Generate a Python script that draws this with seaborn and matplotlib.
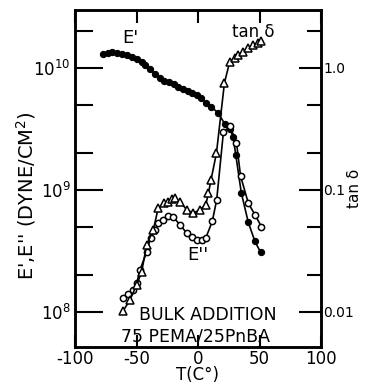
import matplotlib
matplotlib.use("Agg")
import matplotlib.pyplot as plt
import seaborn as sns
from matplotlib.ticker import FixedLocator, FixedFormatter, LogLocator, NullFormatter, LogFormatterMathtext

# ---- data ----
T_Ep = [-77.0, -73.4, -70.2, -66.1, -62.0, -58.0, -53.9, -49.8, -45.8, -43.1, -39.0, -35.0,
        -30.9, -27.4, -23.6, -19.3, -16.0, -12.0, -7.9, -4.6, -1.1, 2.4, 6.3, 10.6, 16.5,
        21.7, 26.0, 28.5, 30.7, 35.2, 40.9, 46.3, 51.0]
Ep = [1.30e10, 1.33e10, 1.35e10, 1.33e10, 1.30e10, 1.28e10, 1.24e10, 1.18e10, 1.11e10, 1.06e10,
      9.75e9, 8.93e9, 8.24e9, 7.87e9, 7.68e9, 7.35e9, 7.03e9, 6.77e9, 6.51e9, 6.27e9, 6.01e9,
      5.65e9, 5.20e9, 4.82e9, 4.26e9, 3.48e9, 3.16e9, 2.72e9, 1.94e9, 9.45e8, 5.40e8, 3.77e8, 3.06e8]

T_Epp = [-60.7, -56.7, -52.6, -49.8, -47.2, -41.7, -38.6, -35.0, -32.3, -28.2, -24.2, -20.1,
         -14.6, -9.2, -5.1, -1.1, 3.0, 6.3, 11.6, 15.2, 20.7, 26.0, 31.3, 34.6, 40.9, 46.3, 51.6]
Epp = [1.29e8, 1.40e8, 1.51e8, 1.71e8, 2.20e8, 3.09e8, 4.04e8, 4.70e8, 5.33e8, 5.68e8, 6.12e8,
       5.97e8, 5.16e8, 4.42e8, 4.10e8, 3.89e8, 3.89e8, 4.02e8, 5.50e8, 8.28e8, 3.00e9, 3.31e9,
       2.43e9, 1.30e9, 7.78e8, 6.24e8, 4.98e8]

T_tan = [-60.7, -55.3, -49.8, -45.8, -41.7, -36.3, -32.3, -27.4, -24.2, -21.1, -18.7, -14.6,
         -9.2, -3.8, 1.6, 6.3, 8.5, 10.6, 15.0, 21.5, 25.8, 29.8, 32.5, 36.6, 40.7, 44.7, 48.8, 51.5]
tan_d = [0.0102, 0.0125, 0.0166, 0.0213, 0.0354, 0.047, 0.0712, 0.0778, 0.080, 0.0836, 0.0855,
         0.080, 0.0686, 0.0644, 0.0686, 0.0753, 0.094, 0.121, 0.20, 0.754, 1.127, 1.20, 1.28,
         1.36, 1.45, 1.55, 1.61, 1.67]

x_ticks = [-100, -50, 0, 50, 100]
x_ticklabels = ["-100", "-50", "0", "50", "100"]
left_ticks = [1e8, 1e9, 1e10]
right_ticks = [0.01, 0.1, 1.0]
right_ticklabels = ["0.01", "0.1", "1.0"]

# ---- style ----
sns.set_style("ticks")
plt.rcParams['font.family'] = ['DejaVu Sans']
plt.rcParams['axes.unicode_minus'] = False
for k in ['text.color', 'axes.labelcolor', 'xtick.color', 'ytick.color',
          'xtick.labelcolor', 'ytick.labelcolor']:
    plt.rcParams[k] = 'black'

fig = plt.figure(figsize=(3.66, 3.85), dpi=100)
ax = fig.add_axes([75/366, 1-347/385, 246/366, 337/385])
ax.set_yscale('log')
ax.set_xlim(-100, 100)
ax.set_ylim(5.13e7, 2.99e10)

ax2 = ax.twinx()
ax2.set_yscale('log')
ax2.set_ylim(5.13e7/1e10, 2.99e10/1e10)

lw = 1.2
sns.lineplot(x=T_Ep, y=Ep, ax=ax, color='black', linewidth=lw, marker='o', markersize=4.5,
             markerfacecolor='black', markeredgecolor='black', sort=False, estimator=None)
sns.lineplot(x=T_Epp, y=Epp, ax=ax, color='black', linewidth=lw, marker='o', markersize=4.5,
             markerfacecolor='white', markeredgecolor='black', markeredgewidth=1.1,
             sort=False, estimator=None)
sns.lineplot(x=T_tan, y=tan_d, ax=ax2, color='black', linewidth=lw, marker='^', markersize=5.5,
             markerfacecolor='white', markeredgecolor='black', markeredgewidth=1.1,
             sort=False, estimator=None)

for a in (ax, ax2):
    for s in a.spines.values():
        s.set_linewidth(1.8)
        s.set_color('black')

ax.xaxis.set_major_locator(FixedLocator(x_ticks))
ax.xaxis.set_major_formatter(FixedFormatter(x_ticklabels))
ax.tick_params(axis='x', direction='in', length=9, width=1.5, top=True, labelsize=12, pad=2)

ax.yaxis.set_major_locator(FixedLocator(left_ticks))
ax.yaxis.set_major_formatter(LogFormatterMathtext())
ax.yaxis.set_minor_locator(LogLocator(base=10, subs=[2, 5]))
ax.yaxis.set_minor_formatter(NullFormatter())
ax.tick_params(axis='y', which='major', direction='in', length=20, width=1.5, labelsize=12, pad=3)
ax.tick_params(axis='y', which='minor', direction='in', length=13, width=1.5)

ax2.yaxis.set_major_locator(FixedLocator(right_ticks))
ax2.yaxis.set_major_formatter(FixedFormatter(right_ticklabels))
ax2.yaxis.set_minor_locator(LogLocator(base=10, subs=[2, 5]))
ax2.yaxis.set_minor_formatter(NullFormatter())
ax2.tick_params(axis='y', which='major', direction='in', length=16, width=1.5, labelsize=10, pad=1.5)
ax2.tick_params(axis='y', which='minor', direction='in', length=10, width=1.5)

ax.set_xlabel("T(C°)", fontsize=12, labelpad=-1)
ax.set_ylabel("E',E'' (DYNE/CM$^2$)", fontsize=14)
ax.yaxis.set_label_coords(-0.15, 0.45)
ax2.set_ylabel("tan δ", fontsize=11)
ax2.yaxis.set_label_coords(1.105, 0.47)

ax.text(-55.3, 1.75e10, "E'", fontsize=13, ha='center', va='center')
ax.text(45, 1.97e10, "tan δ", fontsize=12, ha='center', va='center')
ax.text(0, 2.9e8, "E''", fontsize=13, ha='center', va='center')
ax.text(8, 9.4e7, "BULK ADDITION", fontsize=12.5, ha='center', va='center')
ax.text(-2, 6.3e7, "75 PEMA/25PnBA", fontsize=12.5, ha='center', va='center')

fig.savefig("out.png", dpi=100)
